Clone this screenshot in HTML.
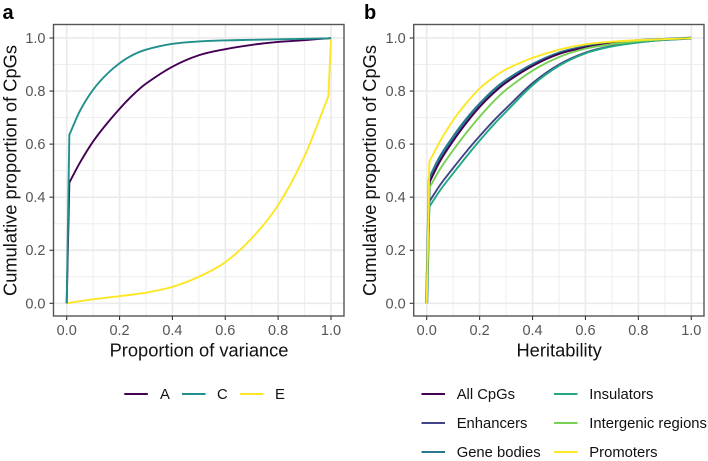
<!DOCTYPE html>
<html>
<head>
<meta charset="utf-8">
<style>
html,body{margin:0;padding:0;background:#fff;width:708px;height:461px;overflow:hidden}
svg{display:block;font-family:"Liberation Sans",Arial,sans-serif}
</style>
</head>
<body>
<svg id="chart" width="708" height="461" viewBox="0 0 708 461" xmlns="http://www.w3.org/2000/svg"></svg>
<script>
const xTicks = [0, 0.2, 0.4, 0.6, 0.8, 1];
const yTicks = [0, 0.2, 0.4, 0.6, 0.8, 1];
const minorTicks = [0.1, 0.3, 0.5, 0.7, 0.9];
const xGrid = [0, 0.01, 0.05, 0.1, 0.15, 0.2, 0.25, 0.3, 0.4, 0.5, 0.6, 0.7, 0.8, 0.9, 0.99, 1];

const seriesA = [0, 0.455, 0.53, 0.61, 0.675, 0.733, 0.785, 0.828, 0.892, 0.935, 0.958, 0.974, 0.985, 0.992, 0.999, 1];
const seriesC = [0, 0.635, 0.725, 0.805, 0.862, 0.905, 0.936, 0.956, 0.978, 0.987, 0.991, 0.993, 0.995, 0.997, 0.999, 1];
const seriesE = [0, 0.002, 0.008, 0.015, 0.021, 0.027, 0.033, 0.04, 0.062, 0.1, 0.155, 0.245, 0.37, 0.555, 0.78, 1];

const allCpgs = [0, 0.455, 0.535, 0.612, 0.68, 0.74, 0.79, 0.832, 0.895, 0.94, 0.965, 0.98, 0.99, 0.995, 0.999, 1];
const enhancers = [0, 0.383, 0.445, 0.51, 0.572, 0.63, 0.685, 0.735, 0.83, 0.9, 0.945, 0.97, 0.984, 0.993, 0.999, 1];
const geneBodies = [0, 0.47, 0.55, 0.626, 0.693, 0.75, 0.8, 0.84, 0.9, 0.943, 0.967, 0.981, 0.99, 0.995, 0.999, 1];
const insulators = [0, 0.364, 0.425, 0.49, 0.553, 0.613, 0.67, 0.722, 0.822, 0.895, 0.942, 0.968, 0.983, 0.993, 0.999, 1];
const intergenic = [0, 0.435, 0.505, 0.577, 0.643, 0.703, 0.758, 0.805, 0.877, 0.928, 0.96, 0.977, 0.988, 0.995, 0.999, 1];
const promoters = [0, 0.534, 0.61, 0.69, 0.755, 0.81, 0.85, 0.882, 0.925, 0.956, 0.976, 0.986, 0.992, 0.996, 0.999, 1];

const svg = document.getElementById('chart');
const NS = 'http://www.w3.org/2000/svg';

function make(tag, attrs, text) {
  const el = document.createElementNS(NS, tag);
  for (const k in attrs) el.setAttribute(k, attrs[k]);
  if (text !== undefined) el.textContent = text;
  svg.appendChild(el);
  return el;
}

function curvePath(px, py) {
  const n = px.length;
  let d = 'M' + px[0].toFixed(2) + ',' + py[0].toFixed(2) + 'L' + px[1].toFixed(2) + ',' + py[1].toFixed(2);
  const last = n - 2;
  const tangent = i => {
    if (i === 1) return (py[2] - py[1]) / (px[2] - px[1]);
    if (i === last) return (py[last] - py[last - 1]) / (px[last] - px[last - 1]);
    return (py[i + 1] - py[i - 1]) / (px[i + 1] - px[i - 1]);
  };
  for (let i = 1; i < last; i++) {
    const h = (px[i + 1] - px[i]) / 3;
    const c1y = py[i] + tangent(i) * h;
    const c2y = py[i + 1] - tangent(i + 1) * h;
    d += 'C' + (px[i] + h).toFixed(2) + ',' + c1y.toFixed(2) + ' ' + (px[i + 1] - h).toFixed(2) + ',' + c2y.toFixed(2) + ' ' + px[i + 1].toFixed(2) + ',' + py[i + 1].toFixed(2);
  }
  d += 'L' + px[n - 1].toFixed(2) + ',' + py[n - 1].toFixed(2);
  return d;
}

function drawPanel(p) {
  const sx = v => p.x0 + v * (p.x1 - p.x0);
  const sy = v => 303.3 - v * (303.3 - 38);

  for (const t of minorTicks) {
    const v = make('line', {x1: sx(t), x2: sx(t), y1: p.top, y2: p.bottom, stroke: '#eeeeee', 'stroke-width': 1});
    
    
    const h = make('line', {x1: p.left, x2: p.right, y1: sy(t), y2: sy(t), stroke: '#eeeeee', 'stroke-width': 1});
    
    
  }
  for (const t of xTicks) {
    const v = make('line', {x1: sx(t), x2: sx(t), y1: p.top, y2: p.bottom, stroke: '#ebebeb', 'stroke-width': 1.7});
    
    
  }
  for (const t of yTicks) {
    const h = make('line', {x1: p.left, x2: p.right, y1: sy(t), y2: sy(t), stroke: '#ebebeb', 'stroke-width': 1.7});
    
    
  }

  for (const s of p.series) {
    const d = curvePath(xGrid.map(sx), s.values.map(sy));
    const line = make('path', {d: d, fill: 'none', stroke: s.color, 'stroke-width': s.width || 1.9, 'stroke-linejoin': 'round'});
    
    
  }

  const border = make('rect', {x: p.left, y: p.top, width: p.right - p.left, height: p.bottom - p.top, fill: 'none', stroke: '#555555', 'stroke-width': 1.4});
  
  

  for (const t of xTicks) {
    const m = make('line', {x1: sx(t), x2: sx(t), y1: p.bottom, y2: p.bottom + 4, stroke: '#333333', 'stroke-width': 1.1});
    
    
    const l = make('text', {x: sx(t), y: 335, 'text-anchor': 'middle', 'font-size': 14.5, fill: '#555555'}, t.toFixed(1));
    
    
  }
  for (const t of yTicks) {
    const m = make('line', {x1: p.left - 4, x2: p.left, y1: sy(t), y2: sy(t), stroke: '#333333', 'stroke-width': 1.1});
    
    
    const l = make('text', {x: p.left - 8, y: sy(t) + 5, 'text-anchor': 'end', 'font-size': 14.5, fill: '#555555'}, t.toFixed(1));
    
    
  }

  const xt = make('text', {x: (p.left + p.right) / 2 + 0.3, y: 356.5, 'text-anchor': 'middle', 'font-size': 18.3, fill: '#111111'}, p.xTitle);
  
  
  const yt = make('text', {x: 0, y: 0, transform: 'translate(' + p.yTitleX + ',170.5) rotate(-90)', 'text-anchor': 'middle', 'font-size': 18.3, fill: '#111111'}, 'Cumulative proportion of CpGs');
  
  
  const tag = make('text', {x: p.tagX, y: 19, 'font-size': 20, 'font-weight': 'bold', fill: '#000000'}, p.id);
  
  

  for (const e of p.legend) {
    const k = make('line', {x1: e.lx, x2: e.lx + 23.5, y1: e.ly, y2: e.ly, stroke: e.color, 'stroke-width': 1.9});
    
    
    const tx = make('text', {x: e.tx, y: e.ly + 5.2, 'font-size': 14.8, fill: '#111111'}, e.label);
    
    
  }
}

drawPanel({
  id: 'a', left: 53.5, right: 344, top: 24.5, bottom: 316, x0: 66.7, x1: 331,
  xTitle: 'Proportion of variance', yTitleX: 16.5, tagX: 2.5,
  series: [
    {name: 'e', values: seriesE, color: '#FDE725'},
    {name: 'a', values: seriesA, color: '#440154'},
    {name: 'c', values: seriesC, color: '#21908C'}
  ],
  legend: [
    {label: 'A', color: '#440154', lx: 124.3, ly: 394, tx: 160},
    {label: 'C', color: '#21908C', lx: 182, ly: 394, tx: 217},
    {label: 'E', color: '#FDE725', lx: 240, ly: 394, tx: 275}
  ]
});

drawPanel({
  id: 'b', left: 413.7, right: 704, top: 24.5, bottom: 316, x0: 426.7, x1: 691.3,
  xTitle: 'Heritability', yTitleX: 376, tagX: 364,
  series: [
    {name: 'gene-bodies', values: geneBodies, color: '#2A788E', width: 3},
    {name: 'all-cpgs', values: allCpgs, color: '#440154'},
    {name: 'enhancers', values: enhancers, color: '#414487'},
    {name: 'insulators', values: insulators, color: '#22A884'},
    {name: 'intergenic-regions', values: intergenic, color: '#7AD151'},
    {name: 'promoters', values: promoters, color: '#FDE725'}
  ],
  legend: [
    {label: 'All CpGs', color: '#440154', lx: 421.5, ly: 394, tx: 456.7},
    {label: 'Enhancers', color: '#414487', lx: 421.5, ly: 423, tx: 456.7},
    {label: 'Gene bodies', color: '#2A788E', lx: 421.5, ly: 452, tx: 456.7},
    {label: 'Insulators', color: '#22A884', lx: 554, ly: 394, tx: 589.3},
    {label: 'Intergenic regions', color: '#7AD151', lx: 554, ly: 423, tx: 589.3},
    {label: 'Promoters', color: '#FDE725', lx: 554, ly: 452, tx: 589.3}
  ]
});
</script>
</body>
</html>
